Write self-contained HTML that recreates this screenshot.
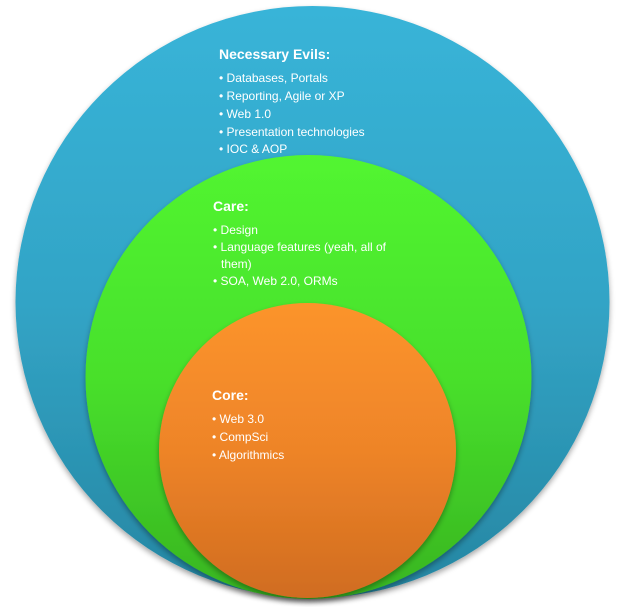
<!DOCTYPE html>
<html><head><style>
html,body{margin:0;padding:0;background:#fff;width:625px;height:607px;overflow:hidden}
text{font-family:"Liberation Sans",sans-serif;fill:#fff}
</style></head><body>
<svg width="625" height="607" viewBox="0 0 625 607" xmlns="http://www.w3.org/2000/svg">
<defs>
<linearGradient id="gb" x1="0" y1="0" x2="0" y2="1"><stop offset="0" stop-color="#38b4d8"/><stop offset="0.5" stop-color="#32a4c6"/><stop offset="1" stop-color="#2686a2"/></linearGradient>
<linearGradient id="gg" x1="0" y1="0" x2="0" y2="1"><stop offset="0" stop-color="#52f530"/><stop offset="0.5" stop-color="#48e02c"/><stop offset="1" stop-color="#38b420"/></linearGradient>
<linearGradient id="go" x1="0" y1="0" x2="0" y2="1"><stop offset="0" stop-color="#fc942c"/><stop offset="0.5" stop-color="#ee8428"/><stop offset="1" stop-color="#d06c20"/></linearGradient>
<filter id="sh" x="-10%" y="-10%" width="120%" height="125%"><feGaussianBlur in="SourceAlpha" stdDeviation="3"/><feOffset dy="3"/><feComponentTransfer><feFuncA type="linear" slope="0.35"/></feComponentTransfer><feMerge><feMergeNode/><feMergeNode in="SourceGraphic"/></feMerge></filter>
</defs>
<ellipse cx="312.5" cy="302" rx="297" ry="296" fill="url(#gb)" filter="url(#sh)"/>
<ellipse cx="308.5" cy="377" rx="223" ry="222" fill="url(#gg)" filter="url(#sh)"/>
<ellipse cx="307.5" cy="450.5" rx="148.5" ry="147.5" fill="url(#go)" filter="url(#sh)"/>

<g font-size="12">
<text x="219" y="59" font-size="14" font-weight="bold">Necessary Evils:</text>
<text x="219" y="82">• Databases, Portals</text>
<text x="219" y="100">• Reporting,  Agile or XP</text>
<text x="219" y="118">• Web 1.0</text>
<text x="219" y="136">• Presentation technologies</text>
<text x="219" y="153">• IOC &amp; AOP</text>

<text x="213" y="211" font-size="14" font-weight="bold">Care:</text>
<text x="213" y="234">• Design</text>
<text x="213" y="251">• Language features (yeah, all of</text>
<text x="221" y="268">them)</text>
<text x="213" y="285">• SOA, Web 2.0,  ORMs</text>

<text x="212" y="400" font-size="14" font-weight="bold">Core:</text>
<text x="212" y="423">• Web 3.0</text>
<text x="212" y="441">• CompSci</text>
<text x="212" y="459">• Algorithmics</text>
</g>
</svg>
</body></html>
